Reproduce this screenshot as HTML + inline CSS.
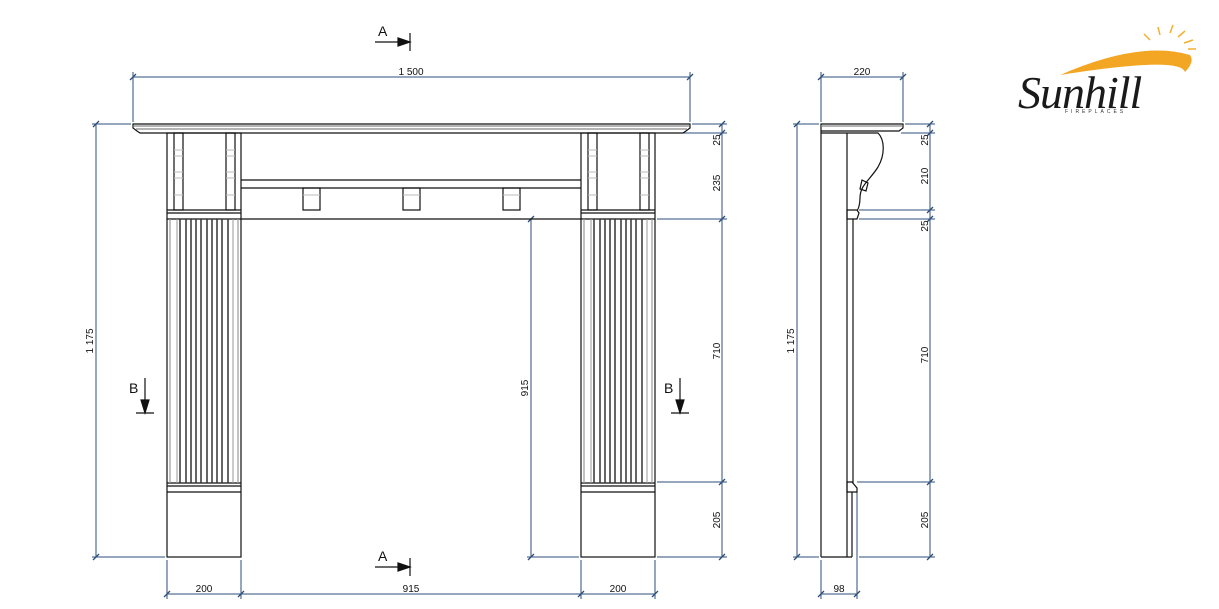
<!DOCTYPE html>
<html><head><meta charset="utf-8"><style>
html,body{margin:0;padding:0;background:#fff;}
svg{display:block;}
text{font-family:"Liberation Sans",sans-serif;fill:#111;}
</style></head><body>
<svg width="1219" height="609" viewBox="0 0 1219 609" xmlns="http://www.w3.org/2000/svg">
<g stroke="#2d4e7a" stroke-width="1" fill="none">
<line x1="133" y1="77" x2="690" y2="77"/>
<line x1="133" y1="72" x2="133" y2="122"/><line x1="690" y1="72" x2="690" y2="122"/>
<line x1="96" y1="124" x2="96" y2="557"/>
<line x1="92" y1="124" x2="131" y2="124"/><line x1="92" y1="557" x2="165" y2="557"/>
<line x1="722" y1="124" x2="722" y2="557"/>
<line x1="692" y1="124" x2="727" y2="124"/><line x1="657" y1="133" x2="727" y2="133"/>
<line x1="657" y1="219" x2="727" y2="219"/><line x1="657" y1="482" x2="727" y2="482"/>
<line x1="657" y1="557" x2="727" y2="557"/>
<line x1="531" y1="219" x2="531" y2="557"/><line x1="527" y1="557" x2="579" y2="557"/>
<line x1="167" y1="594" x2="655" y2="594"/>
<line x1="167" y1="560" x2="167" y2="599"/><line x1="241" y1="560" x2="241" y2="599"/>
<line x1="581" y1="560" x2="581" y2="599"/><line x1="655" y1="560" x2="655" y2="599"/>
<line x1="821" y1="77" x2="903" y2="77"/>
<line x1="821" y1="72" x2="821" y2="122"/><line x1="903" y1="72" x2="903" y2="122"/>
<line x1="797" y1="124" x2="797" y2="557"/>
<line x1="793" y1="124" x2="819" y2="124"/><line x1="793" y1="557" x2="819" y2="557"/>
<line x1="930" y1="124" x2="930" y2="557"/>
<line x1="905" y1="124" x2="935" y2="124"/><line x1="901" y1="133" x2="935" y2="133"/>
<line x1="859" y1="210" x2="935" y2="210"/><line x1="859" y1="219" x2="935" y2="219"/>
<line x1="857" y1="482" x2="935" y2="482"/><line x1="859" y1="557" x2="935" y2="557"/>
<line x1="821" y1="594" x2="857" y2="594"/>
<line x1="821" y1="560" x2="821" y2="599"/><line x1="857" y1="492" x2="857" y2="599"/>
</g>
<g stroke="#2d4e7a" stroke-width="1.3">
<path d="M130 80 l6 -6 M687 80 l6 -6 M93 127 l6 -6 M93 560 l6 -6 M719 127 l6-6 M719 136 l6-6 M719 222 l6-6 M719 485 l6-6 M719 560 l6-6 M528 222 l6-6 M528 560 l6-6 M164 597 l6-6 M238 597 l6-6 M578 597 l6-6 M652 597 l6-6 M818 80 l6-6 M900 80 l6-6 M794 127 l6-6 M794 560 l6-6 M927 127 l6-6 M927 136 l6-6 M927 213 l6-6 M927 222 l6-6 M927 485 l6-6 M927 560 l6-6 M818 597 l6-6 M854 597 l6-6"/>
</g>
<g font-size="10">
<text x="411" y="75" text-anchor="middle">1 500</text>
<text x="204" y="592" text-anchor="middle">200</text>
<text x="411" y="592" text-anchor="middle">915</text>
<text x="618" y="592" text-anchor="middle">200</text>
<text x="862" y="75" text-anchor="middle">220</text>
<text x="839" y="592" text-anchor="middle">98</text>
<text transform="translate(93,341) rotate(-90)" text-anchor="middle">1 175</text>
<text transform="translate(794,341) rotate(-90)" text-anchor="middle">1 175</text>
<text transform="translate(528,388) rotate(-90)" text-anchor="middle">915</text>
<text transform="translate(720,140) rotate(-90)" text-anchor="middle">25</text>
<text transform="translate(720,183) rotate(-90)" text-anchor="middle">235</text>
<text transform="translate(720,351) rotate(-90)" text-anchor="middle">710</text>
<text transform="translate(720,520) rotate(-90)" text-anchor="middle">205</text>
<text transform="translate(928,140) rotate(-90)" text-anchor="middle">25</text>
<text transform="translate(928,176) rotate(-90)" text-anchor="middle">210</text>
<text transform="translate(928,226) rotate(-90)" text-anchor="middle">25</text>
<text transform="translate(928,355) rotate(-90)" text-anchor="middle">710</text>
<text transform="translate(928,520) rotate(-90)" text-anchor="middle">205</text>
</g>
<g stroke="#111" stroke-width="1.2" fill="#111">
<line x1="375" y1="42" x2="400" y2="42"/><path d="M398 38 L410 42 L398 46Z"/><line x1="410" y1="33" x2="410" y2="51"/>
<line x1="375" y1="567" x2="400" y2="567"/><path d="M398 563 L410 567 L398 571Z"/><line x1="410" y1="558" x2="410" y2="576"/>
<line x1="145" y1="378" x2="145" y2="402"/><path d="M141 400 L145 413 L149 400Z"/><line x1="136" y1="413" x2="154" y2="413"/>
<line x1="680" y1="378" x2="680" y2="402"/><path d="M676 400 L680 413 L684 400Z"/><line x1="671" y1="413" x2="689" y2="413"/>
</g>
<g font-size="14"><text x="378" y="36">A</text><text x="378" y="561">A</text><text x="129" y="393">B</text><text x="664" y="393">B</text></g>
<g stroke="#111" stroke-width="1.2" fill="none">
<path d="M133 124 L690 124 L690 128 L686 131 L683 133 L140 133 L137 131 L133 128Z"/>
<line x1="134" y1="126" x2="689" y2="126" stroke="#888"/><line x1="136" y1="129" x2="687" y2="129" stroke="#888"/>
<line x1="241" y1="180" x2="581" y2="180"/><line x1="241" y1="188" x2="581" y2="188"/>
<line x1="241" y1="219" x2="581" y2="219"/>
<rect x="303" y="188" width="17" height="22"/><rect x="403" y="188" width="17" height="22"/><rect x="503" y="188" width="17" height="22"/>
<rect x="167" y="133" width="74" height="424"/>
<rect x="581" y="133" width="74" height="424"/>
<line x1="167" y1="210" x2="241" y2="210"/><line x1="167" y1="213" x2="241" y2="213"/><line x1="167" y1="219" x2="241" y2="219"/>
<line x1="581" y1="210" x2="655" y2="210"/><line x1="581" y1="213" x2="655" y2="213"/><line x1="581" y1="219" x2="655" y2="219"/>
<line x1="167" y1="483" x2="241" y2="483"/><line x1="167" y1="486" x2="241" y2="486"/><line x1="167" y1="492" x2="241" y2="492"/>
<line x1="581" y1="483" x2="655" y2="483"/><line x1="581" y1="486" x2="655" y2="486"/><line x1="581" y1="492" x2="655" y2="492"/>
<rect x="174" y="133" width="9" height="77"/><rect x="226" y="133" width="9" height="77"/>
<rect x="588" y="133" width="9" height="77"/><rect x="640" y="133" width="9" height="77"/>
<line x1="170" y1="219" x2="170" y2="483" stroke="#999"/><line x1="238" y1="219" x2="238" y2="483" stroke="#999"/>
<line x1="584" y1="219" x2="584" y2="483" stroke="#999"/><line x1="652" y1="219" x2="652" y2="483" stroke="#999"/>
</g>
<g stroke="#bbb" stroke-width="1">
<path d="M174 150h9M174 156h9M174 172h9M174 178h9M174 195h9M226 150h9M226 156h9M226 172h9M226 178h9M226 195h9M588 150h9M588 156h9M588 172h9M588 178h9M588 195h9M640 150h9M640 156h9M640 172h9M640 178h9M640 195h9M303 195h17M403 195h17M503 195h17"/>
</g>
<g stroke="#333" stroke-width="1.5">
<path d="M180 219V483M186 219V483M191 219V483M196 219V483M201 219V483M207 219V483M212 219V483M217 219V483M222 219V483M228 219V483M594 219V483M600 219V483M605 219V483M610 219V483M615 219V483M621 219V483M626 219V483M631 219V483M636 219V483M642 219V483"/>
</g>
<g stroke="#999" stroke-width="1">
<path d="M177 219V483M233 219V483M591 219V483M647 219V483"/>
</g>
<g stroke="#111" stroke-width="1.2" fill="none">
<path d="M821 124 L903 124 L903 128 L899 131 L821 131Z"/>
<line x1="821" y1="126" x2="902" y2="126" stroke="#888"/>
<line x1="821" y1="131" x2="821" y2="557"/>
<line x1="847" y1="133" x2="847" y2="557"/>
<line x1="821" y1="557" x2="852" y2="557"/>
<path d="M821 133 L878 133 C885 140 885 155 878 167 C870 180 860 185 860 198 C860 205 858 210 857 210 L847 210 L847 219 L853 219 L853 482 L847 482 L847 492 L857 492 L857 488 L852 482"/>
<path d="M857 210 L859 213 L857 219 L853 219"/>
<line x1="852" y1="492" x2="852" y2="557"/>
<path d="M862 180 l6 3 -2 8 -6 -2z"/>
</g>
<g stroke="#f0b030" stroke-width="1.5">
<path d="M1150 40l-6-6M1160 35l-2-8M1170 33l3-8M1178 37l7-6M1184 43l9-3M1188 49l8 0"/>
</g>
<path d="M1060 75 Q1140 40 1190 55 Q1195 62 1185 72 Q1180 56 1060 75Z" fill="#f2a623"/>
<text x="1018" y="108" font-size="46" style="font-family:'Liberation Serif',serif;font-style:italic;fill:#1a1a1a;letter-spacing:-1px">Sunhill</text>
<text x="1065" y="113" font-size="5" letter-spacing="3" style="fill:#333">FIREPLACES</text>
</svg>
</body></html>
